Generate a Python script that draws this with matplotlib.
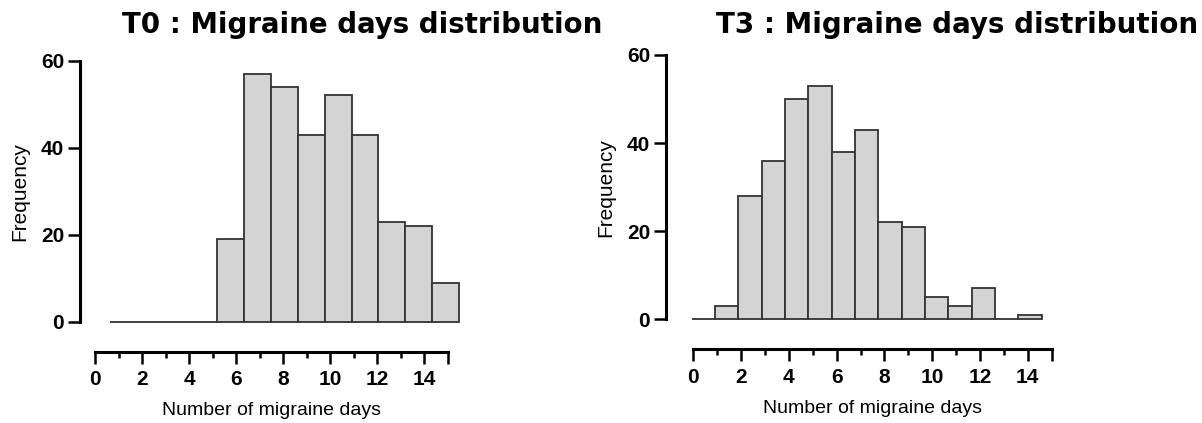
import matplotlib
matplotlib.use("Agg")
import matplotlib.pyplot as plt

# histogram counts, one bin per day (bin k covers k..k+1)
t0Counts = [0, 0, 0, 0, 19, 57, 54, 43, 52, 43, 23, 22, 9]
t3Counts = [0, 3, 28, 36, 50, 53, 38, 43, 22, 21, 5, 3, 7, 0, 1]
yTicks = [0, 20, 40, 60]
xTicks = [0, 2, 4, 6, 8, 10, 12, 14, 15]
xTickLabels = ["0", "2", "4", "6", "8", "10", "12", "14", ""]
xMinor = [1, 3, 5, 7, 9, 11, 13]
titles = ["T0 : Migraine days distribution", "T3 : Migraine days distribution"]

W, H = 1202, 423
plt.rcParams["font.family"] = ["Liberation Sans", "DejaVu Sans"]


def px(x0, y0, x1, y1):
    """pixel box (top-left origin) -> figure rect"""
    return [x0 / W, 1 - y1 / H, (x1 - x0) / W, (y1 - y0) / H]


def drawHist(fig, counts, barBox, xlimBars, axisBox, title, titleX):
    ax = fig.add_axes(px(*barBox))
    edges = list(range(len(counts)))
    ax.bar(edges, counts, width=1, align="edge", color="#d4d4d4",
           edgecolor="#333333", linewidth=1.3, clip_on=False)
    ax.set_xlim(*xlimBars)
    ax.set_ylim(0, 60)
    for s in ["top", "right", "bottom"]:
        ax.spines[s].set_visible(False)
    ax.spines["left"].set_linewidth(2.2)
    ax.set_xticks([])
    ax.set_yticks(yTicks)
    ax.tick_params(axis="y", length=8.5, width=1.8, pad=3, labelsize=15)
    for lab in ax.get_yticklabels():
        lab.set_fontweight("bold")
    ax.set_ylabel("Frequency", fontsize=15, labelpad=8)

    # GraphPad style detached x axis
    xa = fig.add_axes(px(*axisBox))
    xa.set_xlim(0, 15)
    xa.set_ylim(0, 1)
    for s in ["top", "right", "left"]:
        xa.spines[s].set_visible(False)
    xa.spines["bottom"].set_linewidth(2.2)
    xa.set_yticks([])
    xa.set_xticks(xTicks)
    xa.set_xticklabels(xTickLabels, fontsize=15, fontweight="bold")
    xa.set_xticks(xMinor, minor=True)
    xa.tick_params(axis="x", which="major", length=8.5, width=1.8, pad=5)
    xa.tick_params(axis="x", which="minor", length=4, width=1.8)
    xa.set_xlabel("Number of migraine days", fontsize=14, labelpad=9)

    t = fig.text(titleX / W, 1 - 33 / H, title, ha="center", va="baseline",
                 fontsize=18, fontweight="bold", family="DejaVu Sans")
    # scale title so it spans about 481 px like the reference
    wid = t.get_window_extent(fig.canvas.get_renderer()).width
    t.set_fontsize(18 * 481 / wid)


fig = plt.figure(figsize=(W / 100, H / 100), dpi=100)

# left panel: bins 0..13 span 110..459 px
sc = (459 - 110) / 13
drawHist(fig, t0Counts, (80, 60.7, 470, 321.7),
         ((80 - 110) / sc, 13 + (470 - 459) / sc),
         (95, 341.7, 448, 351.7), titles[0], 362)

# right panel: bins 0..15 span 691.7..1041.7 px
sc = (1041.7 - 691.7) / 15
drawHist(fig, t3Counts, (666, 55, 1050, 319.3),
         ((666 - 691.7) / sc, 15 + (1050 - 1041.7) / sc),
         (693.3, 339.3, 1051.7, 349.3), titles[1], 957)

fig.savefig("out.png", dpi=100)
